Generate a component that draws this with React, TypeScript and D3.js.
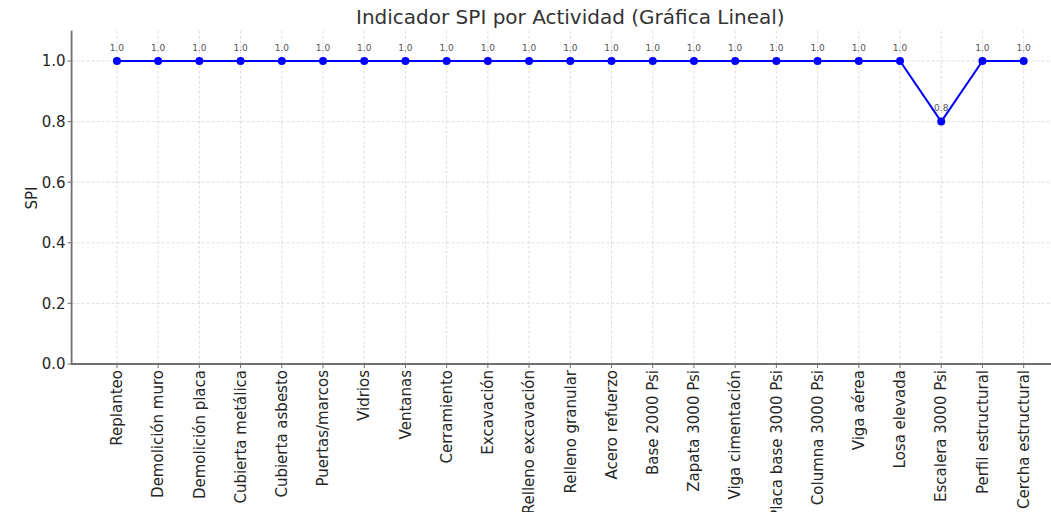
import React from "react";
import * as d3 from "d3";

const actividades = [
  "Replanteo",
  "Demolición muro",
  "Demolición placa",
  "Cubierta metálica",
  "Cubierta asbesto",
  "Puertas/marcos",
  "Vidrios",
  "Ventanas",
  "Cerramiento",
  "Excavación",
  "Relleno excavación",
  "Relleno granular",
  "Acero refuerzo",
  "Base 2000 Psi",
  "Zapata 3000 Psi",
  "Viga cimentación",
  "Placa base 3000 Psi",
  "Columna 3000 Psi",
  "Viga aérea",
  "Losa elevada",
  "Escalera 3000 Psi",
  "Perfil estructural",
  "Cercha estructural",
];

const spi = [
  1.0, 1.0, 1.0, 1.0, 1.0, 1.0, 1.0, 1.0, 1.0, 1.0, 1.0, 1.0, 1.0, 1.0, 1.0,
  1.0, 1.0, 1.0, 1.0, 1.0, 0.8, 1.0, 1.0,
];

const yTicks = [0, 0.2, 0.4, 0.6, 0.8, 1.0];

const W = 1051;
const H = 512;
const font = "DejaVu Sans, sans-serif";

export default function App() {
  const left = 71.6;
  const right = 1069;
  const top = 30.7;
  const bottom = 364;

  const x = d3.scalePoint<string>().domain(actividades).range([left, right]).padding(1.1);
  const y = d3.scaleLinear().domain([0, 1.1]).range([bottom, top]);

  const datos = actividades.map((a, i) => ({ a, v: spi[i] }));
  const linea = d3
    .line<{ a: string; v: number }>()
    .x((d) => x(d.a)!)
    .y((d) => y(d.v));

  return (
    <svg
      width={W}
      height={H}
      style={{ position: "absolute", left: 0, top: 0, background: "#fff" }}
      fontFamily={font}
    >
      {/* grid */}
      <g stroke="#d6d6d6" strokeWidth={0.8} strokeDasharray="3,2">
        {actividades.map((a) => (
          <line key={a} x1={x(a)} x2={x(a)} y1={top} y2={bottom} />
        ))}
        {yTicks.map((t) => (
          <line key={t} x1={left} x2={right} y1={y(t)} y2={y(t)} />
        ))}
      </g>

      {/* spines */}
      <g stroke="#707070" strokeWidth={1.8}>
        <line x1={left} x2={left} y1={top} y2={bottom + 0.9} />
        <line x1={left} x2={right} y1={bottom} y2={bottom} />
      </g>

      {/* y axis */}
      <g fontSize={15} fill="#262626">
        {yTicks.map((t) => (
          <g key={t}>
            <line x1={left - 4} x2={left} y1={y(t)} y2={y(t)} stroke="#707070" strokeWidth={1} />
            <text x={left - 6} y={y(t)} dy="0.36em" textAnchor="end">
              {d3.format(".1f")(t)}
            </text>
          </g>
        ))}
      </g>
      <text
        transform={`translate(37, 198) rotate(-90)`}
        textAnchor="middle"
        fontSize={15}
        fill="#262626"
      >
        SPI
      </text>

      {/* x axis */}
      <g fontSize={15} fill="#262626">
        {actividades.map((a) => (
          <g key={a}>
            <line x1={x(a)} x2={x(a)} y1={bottom} y2={bottom + 4} stroke="#707070" strokeWidth={1} />
            <text
              transform={`translate(${x(a)}, ${bottom + 6}) rotate(-90)`}
              dy="0.35em"
              textAnchor="end"
            >
              {a}
            </text>
          </g>
        ))}
      </g>

      {/* line */}
      <path d={linea(datos) ?? ""} fill="none" stroke="#0000ff" strokeWidth={2} />
      <g fill="#0000ff">
        {datos.map((d) => (
          <circle key={d.a} cx={x(d.a)} cy={y(d.v)} r={4} />
        ))}
      </g>
      <g fontSize={9} fill="#555" textAnchor="middle">
        {datos.map((d) => (
          <text key={d.a} x={x(d.a)} y={y(d.v) - 10.5}>
            {d3.format(".1f")(d.v)}
          </text>
        ))}
      </g>

      {/* title */}
      <text x={(left + right) / 2} y={24} textAnchor="middle" fontSize={20} fill="#333">
        Indicador SPI por Actividad (Gráfica Lineal)
      </text>
    </svg>
  );
}
